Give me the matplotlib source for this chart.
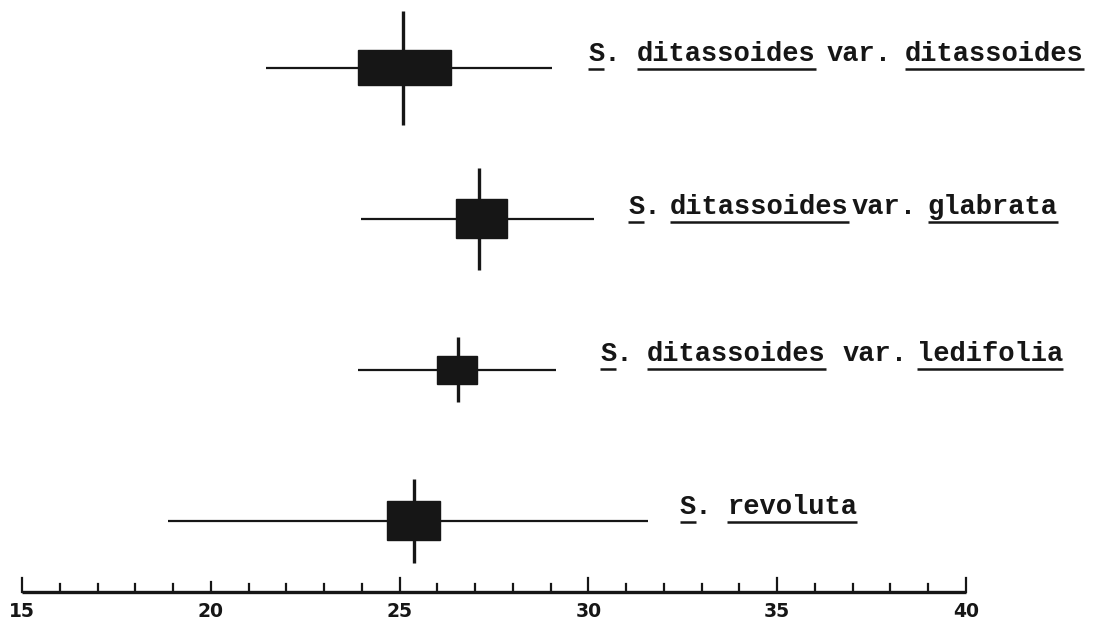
import matplotlib
matplotlib.use("Agg")
import matplotlib.pyplot as plt
from matplotlib.patches import Rectangle

# --- data (values on the 15-40 scale) ---
taxa = [
    [("S.", 1), ("ditassoides", 11), ("var.", 0), ("ditassoides", 11)],
    [("S.", 1), ("ditassoides", 11), ("var.", 0), ("glabrata", 8)],
    [("S.", 1), ("ditassoides", 11), ("var.", 0), ("ledifolia", 9)],
    [("S.", 1), ("revoluta", 8)],
]
means = [25.08, 27.10, 26.54, 25.37]
range_lo = [21.45, 23.97, 23.91, 18.87]
range_hi = [29.03, 30.15, 29.14, 31.58]
box_lo = [23.91, 26.49, 25.98, 24.66]
box_hi = [26.35, 27.84, 27.04, 26.06]
# vertical bar half-length and box half-height, in row units
bar_half = [0.38, 0.34, 0.215, 0.28]
box_half = [0.116, 0.129, 0.093, 0.129]

scale_min, scale_max = 15, 40
scale_labels = [15, 20, 25, 30, 35, 40]

# --- layout ---
word_x = [
    [29.99, 31.29, 36.32, 38.38],
    [31.05, 32.16, 36.98, 38.99],
    [30.31, 31.55, 36.72, 38.70],
    [32.42, 33.67],
]
baseline_off = [-0.046, -0.033, -0.060, -0.046]
axis_y = 3.47

fig = plt.figure(figsize=(10.95, 6.28), dpi=100)
ax = fig.add_axes([0, 0, 1, 1])
ax.set_xlim(14.417, 43.417)
ax.set_ylim(3.709, -0.450)
ax.axis("off")

ink = "#161616"

for i in range(len(means)):
    ax.plot([range_lo[i], range_hi[i]], [i, i], color=ink, lw=1.6,
            solid_capstyle="butt")
    ax.plot([means[i], means[i]], [i - bar_half[i], i + bar_half[i]],
            color=ink, lw=2.4, solid_capstyle="butt")
    ax.add_patch(Rectangle((box_lo[i], i - box_half[i]),
                           box_hi[i] - box_lo[i], 2 * box_half[i],
                           facecolor=ink, edgecolor=ink, lw=1.0, zorder=3))

# scale bar
ax.plot([scale_min, scale_max], [axis_y, axis_y], color=ink, lw=2.4,
        solid_capstyle="butt")
for v in range(scale_min, scale_max + 1):
    h = 0.095 if v % 5 == 0 else 0.05
    if v == 20:
        h = 0.065
    ax.plot([v, v], [axis_y, axis_y - h], color=ink, lw=1.6)
for v in scale_labels:
    ax.text(v, axis_y + 0.065, str(v), ha="center", va="top",
            fontsize=13.5, fontweight="bold", family="DejaVu Sans",
            color=ink)

# species labels, word by word, with typewriter underlines
word_texts = []
for i, words in enumerate(taxa):
    yb = i + baseline_off[i]
    for (w, nu), x in zip(words, word_x[i]):
        t = ax.text(x, yb, w, ha="left", va="baseline", fontsize=19.5,
                    family="Liberation Mono", fontweight="bold", color=ink)
        word_texts.append((t, w, nu, yb))

fig.canvas.draw()
renderer = fig.canvas.get_renderer()
inv = ax.transData.inverted()
for t, w, nu, yb in word_texts:
    if nu == 0:
        continue
    bb = t.get_window_extent(renderer)
    x0 = bb.x0
    x1 = bb.x0 + bb.width * nu / len(w)
    _, ydisp = ax.transData.transform((0, yb))
    (dx0, dy), (dx1, _) = inv.transform([(x0, ydisp - 8), (x1, ydisp - 8)])
    ax.plot([dx0, dx1], [dy, dy], color=ink, lw=1.8, solid_capstyle="butt")

fig.savefig("out.png", dpi=100, facecolor="white")
